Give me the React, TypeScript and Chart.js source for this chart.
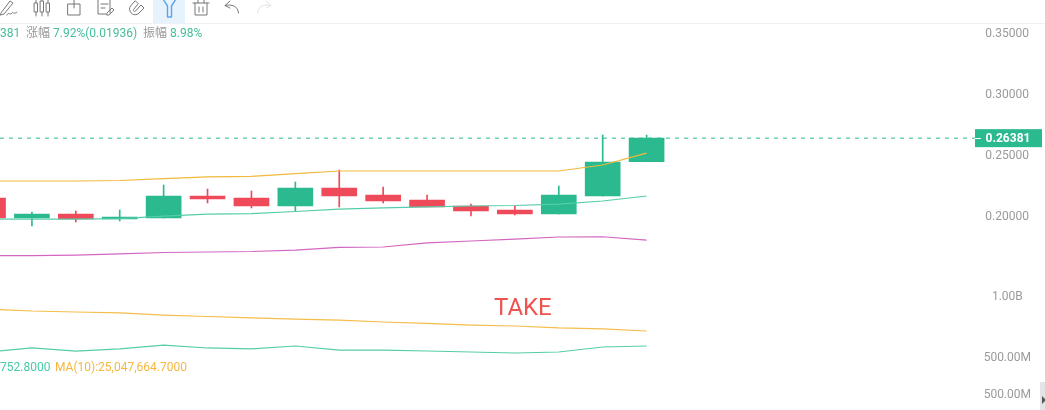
import React, { useEffect, useRef } from "react";
import { Chart, registerables } from "chart.js";

Chart.register(...registerables);

// index of each candle (0 is the one cut by the left edge)
const candleIndex = [0, 1, 2, 3, 4, 5, 6, 7, 8, 9, 10, 11, 12, 13, 14, 15];
const opens = [0.21475, 0.19836, 0.20164, 0.19754, 0.19836, 0.2164, 0.21475, 0.2082, 0.22295, 0.21721, 0.21311, 0.2082, 0.20492, 0.20164, 0.2164, 0.24445];
const closes = [0.19836, 0.20164, 0.19754, 0.19918, 0.2164, 0.21393, 0.2082, 0.22295, 0.2164, 0.2123, 0.20738, 0.2041, 0.20164, 0.21721, 0.24426, 0.26381];
const highs = [0.21475, 0.20328, 0.2041, 0.20492, 0.2254, 0.22213, 0.22049, 0.22787, 0.2377, 0.22377, 0.21721, 0.20984, 0.2082, 0.22459, 0.26639, 0.26639];
const lows = [0.19836, 0.1918, 0.19508, 0.1959, 0.19836, 0.21066, 0.20656, 0.2041, 0.20738, 0.21066, 0.20738, 0.2, 0.20082, 0.20164, 0.2164, 0.24445];

const upperBand = [0.2287, 0.2287, 0.2287, 0.2291, 0.2307, 0.232, 0.2324, 0.2348, 0.2369, 0.2369, 0.2369, 0.2369, 0.2369, 0.2369, 0.2418, 0.2516];
const middleBand = [0.1975, 0.1975, 0.1975, 0.1979, 0.1999, 0.2016, 0.202, 0.2037, 0.2057, 0.2066, 0.2074, 0.2082, 0.2086, 0.2098, 0.2123, 0.2164];
const lowerBand = [0.1676, 0.1676, 0.168, 0.1689, 0.1701, 0.1705, 0.1709, 0.1721, 0.1742, 0.1746, 0.1779, 0.1795, 0.1811, 0.1828, 0.183, 0.1803];

const volumeMa10 = [893, 877, 869, 861, 844, 832, 820, 811, 803, 787, 775, 762, 754, 738, 730, 713];
const volumeMa5 = [541, 574, 549, 566, 598, 574, 566, 590, 557, 557, 549, 541, 533, 541, 582, 590];

const lastPrice = 0.26381;
const lastPriceLabel = "0.26381";
const priceTicks = [0.35, 0.3, 0.25, 0.2];
const volumeTicks = [1000, 500];
const lowerPanelTicks = [500];

const UP = "#2bb98f";
const DOWN = "#ef4a5a";
const AXIS = "#9a9a9a";
const FONT = "Roboto, 'Noto Sans CJK SC', sans-serif";

const xMin = 0.273;
const xMax = 22.48;

const points = (values: number[]) => values.map((y, i) => ({ x: candleIndex[i], y }));
const candleColors = opens.map((o, i) => (closes[i] >= o ? UP : DOWN));

const priceTag = {
  id: "priceTag",
  afterDraw(chart: any) {
    const { ctx, scales } = chart;
    const y = scales.y.getPixelForValue(lastPrice);
    const left = chart.chartArea.right;
    ctx.save();
    ctx.fillStyle = UP;
    ctx.fillRect(left, y - 9, 67, 18);
    ctx.fillStyle = "#ffffff";
    ctx.fillRect(left, Math.round(y), 6, 1);
    ctx.font = `bold 12px ${FONT}`;
    ctx.textAlign = "center";
    ctx.textBaseline = "middle";
    ctx.fillText(lastPriceLabel, 1008, y + 1);
    ctx.restore();
  },
};

const lineSet = (label: string, values: number[], color: string, yAxisID = "y") => ({
  type: "line" as const,
  label,
  data: points(values),
  yAxisID,
  borderColor: color,
  borderWidth: 1.2,
  pointRadius: 0,
  tension: 0,
  order: 1,
});

const axisBase = (padding: number, ticks: number[], format: (v: number) => string, min: number, max: number) => ({
  type: "linear" as const,
  position: "right" as const,
  min,
  max,
  grid: { display: false, drawTicks: false },
  border: { display: false },
  // canvas text sits about a pixel high, so each tick is set one pixel lower
  afterBuildTicks: (axis: any) => {
    axis.ticks = ticks.map((value) => ({ value: value - (max - min) / 410 }));
  },
  afterFit: (axis: any) => {
    axis.width = 0;
    axis.paddingTop = 0;
    axis.paddingBottom = 0;
    axis.paddingLeft = 0;
    axis.paddingRight = 0;
  },
  ticks: {
    color: AXIS,
    padding,
    mirror: true,
    crossAlign: "center" as const,
    autoSkip: false,
    font: { family: FONT, size: 12 },
    callback: (_v: any, i: number) => format(ticks[i]),
  },
});

const formatVolume = (v: number) => (v >= 1000 ? `${(v / 1000).toFixed(2)}B` : `${v.toFixed(2)}M`);

const Icon = ({ x, color = "#777", children }: any) => (
  <svg
    style={{ position: "absolute", left: x, top: -2, width: 22, height: 22 }}
    viewBox="0 0 22 22"
    fill="none"
    stroke={color}
    strokeWidth={1}
    strokeLinecap="round"
    strokeLinejoin="round"
  >
    {children}
  </svg>
);

const textStyle: React.CSSProperties = {
  position: "absolute",
  whiteSpace: "nowrap",
  fontFamily: FONT,
  fontSize: 12,
  lineHeight: "14px",
};

export default function App() {
  const ref = useRef<HTMLCanvasElement>(null);

  useEffect(() => {
    document.body.style.margin = "0";
    const chart = new Chart(ref.current as HTMLCanvasElement, {
      data: {
        datasets: [
          lineSet("Upper", upperBand, "#f2b93b"),
          lineSet("Middle", middleBand, "#55cdaa"),
          lineSet("Lower", lowerBand, "#d266c0"),
          lineSet("MA10", volumeMa10, "#f5bd4a", "yVolume"),
          lineSet("MA5", volumeMa5, "#55cdaa", "yVolume"),
          {
            type: "line" as const,
            label: "Last",
            data: [
              { x: xMin, y: lastPrice },
              { x: xMax, y: lastPrice },
            ],
            yAxisID: "y",
            borderColor: UP,
            borderWidth: 1,
            borderDash: [4, 5],
            pointRadius: 0,
            order: 2,
          },
          {
            type: "bar" as const,
            label: "Body",
            data: candleIndex.map((x, i) => ({ x, y: [opens[i], closes[i]] })),
            yAxisID: "y",
            backgroundColor: candleColors,
            barThickness: 35,
            order: 3,
          },
          {
            type: "bar" as const,
            label: "Wick",
            data: candleIndex.map((x, i) => ({ x, y: [lows[i], highs[i]] })),
            yAxisID: "y",
            backgroundColor: candleColors,
            barThickness: 1,
            order: 4,
          },
        ],
      } as any,
      plugins: [priceTag],
      options: {
        animation: false,
        responsive: false,
        parsing: { xAxisKey: "x", yAxisKey: "y" },
        datasets: { bar: { grouped: false } },
        layout: { padding: { left: 0, top: 0, bottom: 0, right: 70 } },
        plugins: { legend: { display: false }, tooltip: { enabled: false } },
        scales: {
          x: { type: "linear", min: xMin, max: xMax, offset: false, display: false },
          y: axisBase(54, priceTicks, (v) => v.toFixed(5), 0.04098, 0.37705),
          yVolume: axisBase(56, volumeTicks, formatVolume, 65.6, 3426.2),
          yLower: axisBase(56, lowerPanelTicks, formatVolume, 369, 3729.5),
        },
      } as any,
    });
    return () => chart.destroy();
  }, []);

  return (
    <div style={{ position: "relative", width: 1045, height: 410, overflow: "hidden", background: "#fff" }}>
      <canvas ref={ref} width={1045} height={410} style={{ position: "absolute", left: 0, top: 0 }} />

      {/* toolbar */}
      <div style={{ position: "absolute", left: 0, top: 23, width: 1045, height: 1, background: "#eef0f3" }} />
      <div style={{ position: "absolute", left: 153, top: 0, width: 32, height: 23, background: "#e6f2fc" }} />
      <Icon x={-2}>
        <path d="M3 15 L12 3 L15 5 L6 16 L2.5 17 Z" />
        <path d="M9 17 C11 13 12 18 14 15 C15 13.5 16 17 19 14" />
      </Icon>
      <Icon x={31}>
        <path d="M5 1 V18 M11 0 V18 M17 1 V18" />
        <rect x="3.5" y="5" width="3" height="9" fill="#fff" />
        <rect x="9.5" y="3" width="3" height="11" fill="#fff" />
        <rect x="15.5" y="5" width="3" height="9" fill="#fff" />
      </Icon>
      <Icon x={63}>
        <rect x="5" y="6" width="12" height="11" />
        <path d="M11 1 V10" />
      </Icon>
      <Icon x={95}>
        <path d="M15 15 V1 H3 V16 H11" />
        <path d="M6 6 H13 M6 10 H10" />
        <path d="M12 15 L17 10 L19 12 L14 17 L12 17 Z" />
      </Icon>
      <Icon x={127}>
        <path d="M8 3 L3.5 8 C0.5 12 5 19 11 16 L17 10 L14 7 L8.5 13 C7 14.5 5.5 12.5 7 11 L11 6 Z" />
      </Icon>
      <Icon x={158} color="#5aa5ea">
        <path d="M5 1 H18 L13.5 8 V19 H9.5 V8 Z" strokeWidth={1.4} />
      </Icon>
      <Icon x={190}>
        <path d="M3 5 H19 M5 5 V17 H17 V5 M8 5 V1 H14 V5 M9 9 V14 M13 9 V14" />
      </Icon>
      <Icon x={221}>
        <path d="M9 3 L4 7.5 L9 10 M4 7.5 C11 6 17 8 17.5 15" />
      </Icon>
      <Icon x={253} color="#dfe1e4">
        <path d="M13 3 L18 7.5 L13 10 M18 7.5 C11 6 5 8 4.5 15" />
      </Icon>

      {/* indicator captions */}
      <span style={{ ...textStyle, left: 0, top: 26, color: "#45bd9b" }}>381</span>
      <span style={{ ...textStyle, left: 26, top: 26, color: "#999" }}>涨幅</span>
      <span style={{ ...textStyle, left: 53, top: 26, color: "#45bd9b" }}>7.92%(0.01936)</span>
      <span style={{ ...textStyle, left: 143, top: 26, color: "#999" }}>振幅</span>
      <span style={{ ...textStyle, left: 170, top: 26, color: "#45bd9b" }}>8.98%</span>
      <span style={{ ...textStyle, left: 0, top: 360, color: "#45cba6" }}>752.8000</span>
      <span style={{ ...textStyle, left: 55, top: 360, color: "#f5b73f" }}>MA(10):25,047,664.7000</span>
      <span style={{ ...textStyle, left: 494, top: 292, fontSize: 24, lineHeight: "30px", color: "#ef5350" }}>TAKE</span>

      {/* scroll handle */}
      <div style={{ position: "absolute", left: 1040, top: 382, width: 5, height: 28, background: "#e3e4e6" }} />
      <div
        style={{
          position: "absolute",
          left: 1042,
          top: 396,
          width: 0,
          height: 0,
          borderTop: "4px solid transparent",
          borderBottom: "4px solid transparent",
          borderLeft: "4px solid #555",
        }}
      />
    </div>
  );
}
